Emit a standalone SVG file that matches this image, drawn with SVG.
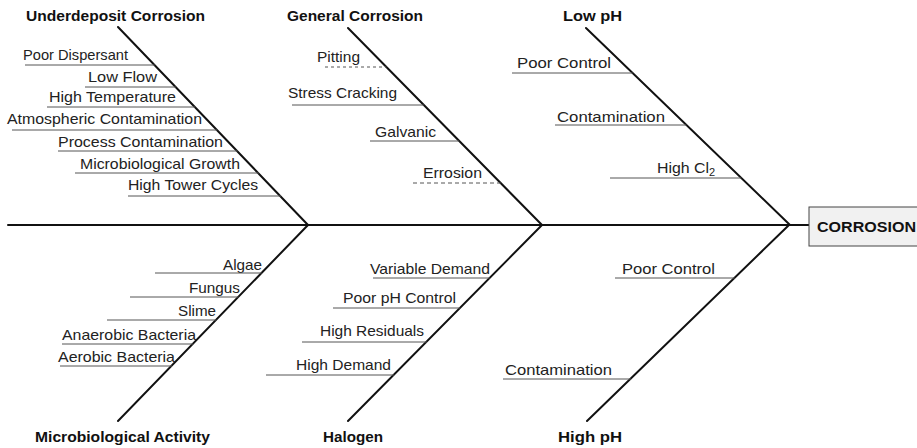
<svg xmlns="http://www.w3.org/2000/svg" width="917" height="448" viewBox="0 0 917 448">
<style>
.bone{stroke:#111;stroke-width:2;fill:none;stroke-linecap:round}
.ul{stroke:#555;stroke-width:1;fill:none}
.t{font-family:"Liberation Sans",Arial,sans-serif;font-size:15px;fill:#222}
.b{font-family:"Liberation Sans",Arial,sans-serif;font-size:15px;font-weight:bold;fill:#111}
</style>
<rect width="917" height="448" fill="#fff"/>
<g id="connectors">
<line class="bone" x1="8" y1="225" x2="809" y2="225"/>
<line class="bone" x1="118" y1="27" x2="308" y2="225"/>
<line class="bone" x1="348" y1="28" x2="542" y2="225"/>
<line class="bone" x1="586" y1="28" x2="790" y2="225"/>
<line class="bone" x1="308" y1="225" x2="118" y2="421"/>
<line class="bone" x1="542" y1="225" x2="348" y2="421"/>
<line class="bone" x1="789" y1="225" x2="587" y2="421"/>
</g>
<g id="effect">
<rect x="809" y="207" width="112" height="39" fill="#f1f1f1" stroke="#444" stroke-width="1"/>
<text class="b" x="817" y="232" font-size="15" textLength="99" lengthAdjust="spacingAndGlyphs">CORROSION</text>
</g>
<g id="cat-underdeposit"><text class="b" x="26" y="21" textLength="179" lengthAdjust="spacingAndGlyphs">Underdeposit Corrosion</text></g>
<g id="cat-general"><text class="b" x="287" y="21" textLength="136" lengthAdjust="spacingAndGlyphs">General Corrosion</text></g>
<g id="cat-lowph"><text class="b" x="563" y="21" textLength="59" lengthAdjust="spacingAndGlyphs">Low pH</text></g>
<g id="cat-micro"><text class="b" x="35" y="442" textLength="175" lengthAdjust="spacingAndGlyphs">Microbiological Activity</text></g>
<g id="cat-halogen"><text class="b" x="323" y="442" textLength="60" lengthAdjust="spacingAndGlyphs">Halogen</text></g>
<g id="cat-highph"><text class="b" x="558" y="442" textLength="64" lengthAdjust="spacingAndGlyphs">High pH</text></g>

<g id="c-poor-dispersant"><text class="t" x="23" y="60" textLength="105" lengthAdjust="spacingAndGlyphs">Poor Dispersant</text><line class="ul" x1="25" y1="65" x2="154.7" y2="65"/></g>
<g id="c-low-flow"><text class="t" x="88" y="82" textLength="69" lengthAdjust="spacingAndGlyphs">Low Flow</text><line class="ul" x1="85" y1="87" x2="175.9" y2="87"/></g>
<g id="c-high-temp"><text class="t" x="49" y="102" textLength="127" lengthAdjust="spacingAndGlyphs">High Temperature</text><line class="ul" x1="47" y1="107" x2="195.2" y2="107"/></g>
<g id="c-atmos"><text class="t" x="7" y="124" textLength="195" lengthAdjust="spacingAndGlyphs">Atmospheric Contamination</text><line class="ul" x1="12" y1="130" x2="217.3" y2="130"/></g>
<g id="c-process"><text class="t" x="58" y="147" textLength="165" lengthAdjust="spacingAndGlyphs">Process Contamination</text><line class="ul" x1="58" y1="151" x2="237.6" y2="151"/></g>
<g id="c-micro-growth"><text class="t" x="80" y="169" textLength="160" lengthAdjust="spacingAndGlyphs">Microbiological Growth</text><line class="ul" x1="75" y1="173" x2="258.8" y2="173"/></g>
<g id="c-tower"><text class="t" x="128" y="190" textLength="130" lengthAdjust="spacingAndGlyphs">High Tower Cycles</text><line class="ul" x1="128" y1="196" x2="281" y2="196"/></g>

<g id="c-pitting"><text class="t" x="317" y="62" textLength="43" lengthAdjust="spacingAndGlyphs">Pitting</text><line class="ul" x1="325" y1="67" x2="386.4" y2="67" stroke-dasharray="3,3"/></g>
<g id="c-stress"><text class="t" x="288" y="98" textLength="109" lengthAdjust="spacingAndGlyphs">Stress Cracking</text><line class="ul" x1="292" y1="105" x2="423.8" y2="105"/></g>
<g id="c-galvanic"><text class="t" x="375" y="137" textLength="61" lengthAdjust="spacingAndGlyphs">Galvanic</text><line class="ul" x1="370" y1="141" x2="459.3" y2="141"/></g>
<g id="c-errosion"><text class="t" x="423" y="178" textLength="59" lengthAdjust="spacingAndGlyphs">Errosion</text><line class="ul" x1="413" y1="183" x2="500.7" y2="183" stroke-dasharray="4,3"/></g>

<g id="c-lowph-control"><text class="t" x="517" y="68" textLength="94" lengthAdjust="spacingAndGlyphs">Poor Control</text><line class="ul" x1="512" y1="73" x2="632.6" y2="73"/></g>
<g id="c-lowph-contam"><text class="t" x="557" y="122" textLength="108" lengthAdjust="spacingAndGlyphs">Contamination</text><line class="ul" x1="555" y1="125" x2="686.4" y2="125"/></g>
<g id="c-highcl2"><text class="t" x="657" y="173"><tspan textLength="52" lengthAdjust="spacingAndGlyphs">High Cl</tspan><tspan font-size="11" dy="3">2</tspan></text><line class="ul" x1="610" y1="178" x2="741.3" y2="178"/></g>

<g id="c-algae"><text class="t" x="223" y="270" textLength="39" lengthAdjust="spacingAndGlyphs">Algae</text><line class="ul" x1="155" y1="273" x2="261.7" y2="273"/></g>
<g id="c-fungus"><text class="t" x="189" y="293" textLength="51" lengthAdjust="spacingAndGlyphs">Fungus</text><line class="ul" x1="130" y1="297" x2="238.6" y2="297"/></g>
<g id="c-slime"><text class="t" x="178" y="316" textLength="38" lengthAdjust="spacingAndGlyphs">Slime</text><line class="ul" x1="107" y1="320" x2="216.4" y2="320"/></g>
<g id="c-anaerobic"><text class="t" x="62" y="340" textLength="134" lengthAdjust="spacingAndGlyphs">Anaerobic Bacteria</text><line class="ul" x1="62" y1="344" x2="193.2" y2="344"/></g>
<g id="c-aerobic"><text class="t" x="58" y="362" textLength="117" lengthAdjust="spacingAndGlyphs">Aerobic Bacteria</text><line class="ul" x1="60" y1="366" x2="172" y2="366"/></g>

<g id="c-variable"><text class="t" x="370" y="274" textLength="120" lengthAdjust="spacingAndGlyphs">Variable Demand</text><line class="ul" x1="373" y1="278" x2="489.8" y2="278"/></g>
<g id="c-poorph"><text class="t" x="343" y="303" textLength="113" lengthAdjust="spacingAndGlyphs">Poor pH Control</text><line class="ul" x1="333" y1="308" x2="460.2" y2="308"/></g>
<g id="c-residuals"><text class="t" x="320" y="336" textLength="104" lengthAdjust="spacingAndGlyphs">High Residuals</text><line class="ul" x1="302" y1="342" x2="426.8" y2="342"/></g>
<g id="c-highdemand"><text class="t" x="296" y="370" textLength="95" lengthAdjust="spacingAndGlyphs">High Demand</text><line class="ul" x1="266" y1="375" x2="394.3" y2="375"/></g>

<g id="c-highph-control"><text class="t" x="622" y="274" textLength="93" lengthAdjust="spacingAndGlyphs">Poor Control</text><line class="ul" x1="615" y1="278" x2="734.7" y2="278"/></g>
<g id="c-highph-contam"><text class="t" x="505" y="375" textLength="107" lengthAdjust="spacingAndGlyphs">Contamination</text><line class="ul" x1="503" y1="379" x2="631.1" y2="379"/></g>
</svg>
